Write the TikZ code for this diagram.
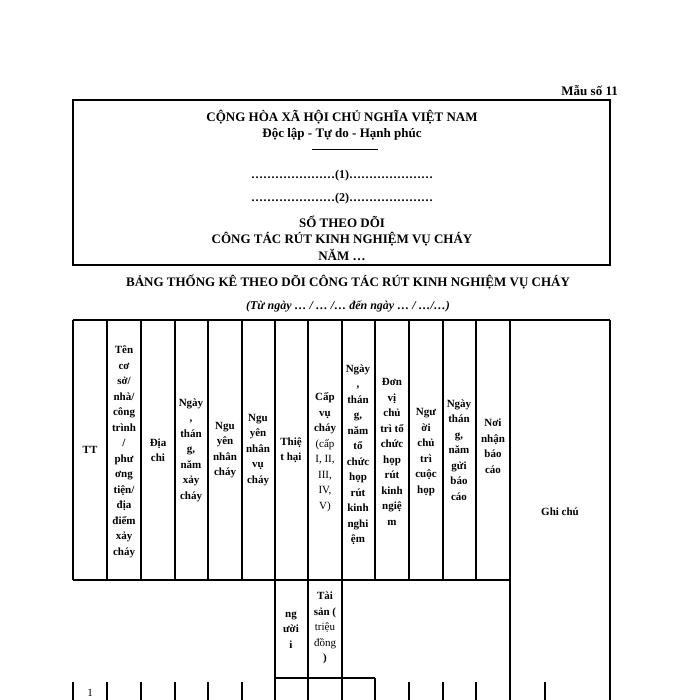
\documentclass[tikz,border=0pt]{standalone}
\usepackage{fontspec}
\setmainfont{Liberation Serif}[BoldFont={Liberation Serif Bold},ItalicFont={Liberation Serif Italic},BoldItalicFont={Liberation Serif Bold Italic}]
\newcommand{\fs}[1]{\fontsize{#1}{\dimexpr #1pt*14/10}\selectfont}
\tikzset{
  cell/.style={align=center,font=\fontsize{11}{15.5}\selectfont\bfseries,inner sep=0pt},
  titre/.style={align=center,font=\fs{13}\bfseries,inner sep=0pt},
  grille/.style={line width=1.6pt}
}
\begin{document}
\begin{tikzpicture}[x=1pt,y=-1pt]
\useasboundingbox (0,0) rectangle (700,700);

% en-tete
\node[titre,anchor=east] (mau) at (618,91) {Mẫu số 11};
\draw[grille] (73,100) rectangle (610,265);
\node[titre] (qh) at (342,117) {CỘNG HÒA XÃ HỘI CHỦ NGHĨA VIỆT NAM};
\node[titre] (dl) at (342,134) {Độc lập - Tự do - Hạnh phúc};
\draw[line width=0.6pt] (312,149) -- (378,149);
\node[titre,font=\fs{12}\bfseries] (d1) at (342,176) {…………………(1)…………………};
\node[titre,font=\fs{12}\bfseries] (d2) at (342,199) {…………………(2)…………………};
\node[titre] (so) at (342,222) {SỔ THEO DÕI};
\node[titre] (ct) at (342,239) {CÔNG TÁC RÚT KINH NGHIỆM VỤ CHÁY};
\node[titre] (nam) at (342,255) {NĂM …};
\node[titre] (bang) at (348,282) {BẢNG THỐNG KÊ THEO DÕI CÔNG TÁC RÚT KINH NGHIỆM VỤ CHÁY};
\node[titre,font=\fs{12}\bfseries\itshape] (tu) at (348,306) {(Từ ngày … / … /… đến ngày … / …/…)};

% bang
\draw[grille] (73,320) -- (610,320);
\draw[grille] (73,580) -- (510,580);
\draw[grille] (275,678) -- (375,678);
\foreach \x in {73,107,141,175,208,242,275,308,342,375,409,443,476,510}
  \draw[grille] (\x,320) -- (\x,580);
\foreach \x in {275,308,342,510,610}
  \draw[grille] (\x,580) -- (\x,678);
\draw[grille] (610,320) -- (610,580);
\foreach \x in {73,107,141,175,208,242,409,443,476,545}
  \draw[grille] (\x,682) -- (\x,700);
\foreach \x in {275,308,342,375,510,610}
  \draw[grille] (\x,678) -- (\x,700);

\node[cell] (tt) at (90,450) {TT};
\node[cell] (ten) at (124,452) {Tên\\cơ\\sở/\\nhà/\\công\\trình\\/\\phư\\ơng\\tiện/\\địa\\điểm\\xảy\\cháy};
\node[cell] (dc) at (158,450) {Địa\\chi};
\node[cell] (ngay) at (191,450) {Ngày\\,\\thán\\g,\\năm\\xảy\\cháy};
\node[cell] (ngn) at (225,450) {Ngu\\yên\\nhân\\cháy};
\node[cell] (ngv) at (258,450) {Ngu\\yên\\nhân\\vụ\\cháy};
\node[cell] (th) at (291,450) {Thiệ\\t hại};
\node[cell] (cap) at (325,452) {Cấp\\vụ\\cháy\\{\mdseries(cấp}\\{\mdseries I, II,}\\{\mdseries III,}\\{\mdseries IV,}\\{\mdseries V)}};
\node[cell] (ngto) at (358,455) {Ngày\\,\\thán\\g,\\năm\\tổ\\chức\\họp\\rút\\kinh\\nghi\\ệm};
\node[cell] (dv) at (392,452) {Đơn\\vị\\chủ\\trì tổ\\chức\\họp\\rút\\kinh\\ngiệ\\m};
\node[cell] (ng) at (426,452) {Ngư\\ời\\chủ\\trì\\cuộc\\họp};
\node[cell] (ngg) at (459,450) {Ngày\\thán\\g,\\năm\\gửi\\báo\\cáo};
\node[cell] (noi) at (493,446) {Nơi\\nhận\\báo\\cáo};
\node[cell] (gc) at (560,512) {Ghi chú};
\node[cell] (nguoi) at (291,630) {ng\\ười\\i};
\node[cell] (ts) at (325,628) {Tài\\sản (\\{\mdseries triệu}\\{\mdseries đồng}\\)};
\node[cell,font=\fs{11}] (mot) at (90,693) {1};
\end{tikzpicture}
\end{document}
